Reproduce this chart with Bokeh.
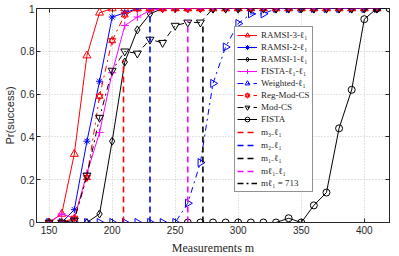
import numpy as np
from bokeh.plotting import figure
from bokeh.models import (ColumnDataSource, Legend, LegendItem, LinearAxis,
                          Range1d, FixedTicker, CustomLabelingPolicy)
from bokeh.embed import file_html
from bokeh.resources import INLINE

# ---------------- data ----------------
m_main = list(range(150, 420, 10))          # 150 .. 410
ramsi3 = [0, 0.04, 0.32, 0.78, 0.98] + [1.0] * 22
ramsi2 = [0, 0, 0.06, 0.38, 0.66, 0.96, 0.98] + [1.0] * 20
ramsi1 = [0, 0, 0, 0, 0.04, 0.38, 0.75, 0.90, 0.975] + [1.0] * 18
fista_l1l1 = [0, 0.04, 0.02, 0.23, 0.42, 0.70, 0.92, 0.96, 0.99] + [1.0] * 18
weighted = [0] * 11 + [0.09, 0.28, 0.65, 0.82, 0.93, 0.975, 0.975] + [1.0] * 9
reg_mod_cs = [0, 0, 0.02, 0.21, 0.59, 0.85, 0.97] + [1.0] * 20
mod_cs = [0, 0, 0.01, 0.22, 0.49, 0.71, 0.80, 0.79, 0.855, 0.84, 0.92,
          0.935, 0.935] + [1.0] * 14
m_fista = list(range(260, 430, 10))         # 260 .. 420
fista = [0] * 8 + [0.02, 0, 0.08, 0.14, 0.44, 0.62, 0.95, 1.0, 1.0]

vline_m = [209, 230, 272, 260]              # m_{3-l1}, m_{2-l1}, m_{1-l1}, m_{l1-l1}
vline_top = [0.76, 0.975, 0.93, 0.945]
m_l1 = 713

x_ticks = [150, 200, 250, 300, 350, 400]
y_ticks = [0, 0.2, 0.4, 0.6, 0.8, 1]
y_tick_labels = ["0", "0.2", "0.4", "0.6", "0.8", "1"]

labels = ["RAMSI-3-ℓ₁", "RAMSI-2-ℓ₁", "RAMSI-1-ℓ₁", "FISTA-ℓ₁-ℓ₁",
          "Weighted-ℓ₁", "Reg-Mod-CS", "Mod-CS", "FISTA",
          "m₃₋ℓ₁", "m₂₋ℓ₁", "m₁₋ℓ₁", "mℓ₁₋ℓ₁", "mℓ₁ = 713"]

RED, BLUE, BLACK, MAG = "#ff0000", "#0000ff", "#000000", "#ff00ff"
AX = "#262626"

p = figure(frame_width=353, frame_height=214, output_backend="svg",
           toolbar_location=None, x_range=Range1d(140, 420),
           y_range=Range1d(0, 1), min_border_top=12, min_border_right=4,
           min_border_left=0, min_border_bottom=0)
p.styles = {"margin-top": "-4px"}
p.background_fill_color = "white"
p.outline_line_color = AX
p.outline_line_width = 1

# axes
for ax in (p.xaxis[0], p.yaxis[0]):
    ax.major_tick_in = 4
    ax.major_tick_out = 0
    ax.minor_tick_line_color = None
    ax.axis_line_color = AX
    ax.major_tick_line_color = AX
    ax.major_label_text_color = AX
    ax.major_label_text_font = "Liberation Sans"
    ax.major_label_text_font_size = "10px"
    ax.major_label_standoff = 3
p.xaxis.ticker = FixedTicker(ticks=x_ticks)
p.yaxis.ticker = FixedTicker(ticks=y_ticks)
p.yaxis.major_label_standoff = 2
p.yaxis.major_label_overrides = {t: s for t, s in zip(y_ticks, y_tick_labels)}
p.xaxis.axis_label = "Measurements m"
p.xaxis.axis_label_text_font = "Liberation Serif"
p.xaxis.axis_label_text_font_style = "normal"
p.xaxis.axis_label_text_font_size = "12px"
p.xaxis.axis_label_text_color = AX
p.xaxis.axis_label_standoff = 4
p.yaxis.axis_label = "Pr(success)"
p.yaxis.axis_label_text_font = "Liberation Sans"
p.yaxis.axis_label_text_font_style = "normal"
p.yaxis.axis_label_text_font_size = "11px"
p.yaxis.axis_label_text_color = AX
p.yaxis.axis_label_standoff = 2

no_labels = CustomLabelingPolicy(code="return new Set()")
for loc, ticks in (("above", x_ticks), ("right", y_ticks)):
    a = LinearAxis(ticker=FixedTicker(ticks=ticks), major_tick_in=4,
                   major_tick_out=0, minor_tick_line_color=None,
                   axis_line_color=None, major_tick_line_color=AX,
                   major_label_policy=no_labels, major_label_standoff=0)
    p.add_layout(a, loc)

p.xgrid.ticker = FixedTicker(ticks=x_ticks)
p.ygrid.ticker = FixedTicker(ticks=y_ticks)
for g in (p.xgrid[0], p.ygrid[0]):
    g.grid_line_color = "#c8c8c8"
    g.grid_line_dash = "1 2"
    g.grid_line_width = 1

items = []

def series(xs, ys, color, marker, dash, label, size=7, angle=0.0):
    src = ColumnDataSource(dict(x=xs, y=ys))
    r1 = p.line("x", "y", source=src, line_color=color, line_width=1,
                line_dash=dash)
    r2 = p.scatter("x", "y", source=src, marker=marker, size=size,
                   line_color=color, fill_color=None, line_width=1,
                   angle=angle)
    items.append(LegendItem(label=label, renderers=[r1, r2]))

series(m_main, ramsi3, RED, "triangle", "solid", labels[0], size=8)
series(m_main, ramsi2, BLUE, "asterisk", "solid", labels[1], size=7)
series(m_main, ramsi1, BLACK, "diamond", "solid", labels[2], size=8)
series(m_main, fista_l1l1, MAG, "cross", "solid", labels[3], size=8)
series(m_main, weighted, BLUE, "triangle", "dashdot", labels[4], size=8,
       angle=-np.pi / 2)

# Reg-Mod-CS: hexagram made of two triangles
src_rm = ColumnDataSource(dict(x=m_main, y=reg_mod_cs))
r1 = p.line("x", "y", source=src_rm, line_color=RED, line_width=1,
            line_dash="dashdot")
r2 = p.scatter("x", "y", source=src_rm, marker="triangle", size=7,
               line_color=RED, fill_color=None, line_width=1)
r3 = p.scatter("x", "y", source=src_rm, marker="inverted_triangle", size=7,
               line_color=RED, fill_color=None, line_width=1)
items.append(LegendItem(label=labels[5], renderers=[r1, r2, r3]))

series(m_main, mod_cs, BLACK, "inverted_triangle", "dashdot", labels[6], size=8)
series(m_fista, fista, BLACK, "circle", "solid", labels[7], size=7)

vcolors = [RED, BLUE, BLACK, MAG]
for i, (xm, top, c) in enumerate(zip(vline_m, vline_top, vcolors)):
    r = p.line([xm, xm], [0, top], line_color=c, line_width=1.6,
               line_dash="6 4")
    items.append(LegendItem(label=labels[8 + i], renderers=[r]))
r = p.line([m_l1, m_l1], [0, 1], line_color=BLACK, line_width=1.6,
           line_dash="6 3 2 3")
items.append(LegendItem(label=labels[12], renderers=[r]))

legend = Legend(items=items, location=(198, 30), orientation="vertical",
                label_text_font="Liberation Serif", label_text_font_size="9px",
                label_text_line_height=0.9,
                label_text_color=AX, label_height=12, glyph_height=12,
                glyph_width=20, label_standoff=4, spacing=0, padding=2,
                margin=0, border_line_color=AX, border_line_width=1,
                background_fill_color="white", background_fill_alpha=1)
p.add_layout(legend, "center")

open("out.html", "w").write(file_html(p, INLINE))
